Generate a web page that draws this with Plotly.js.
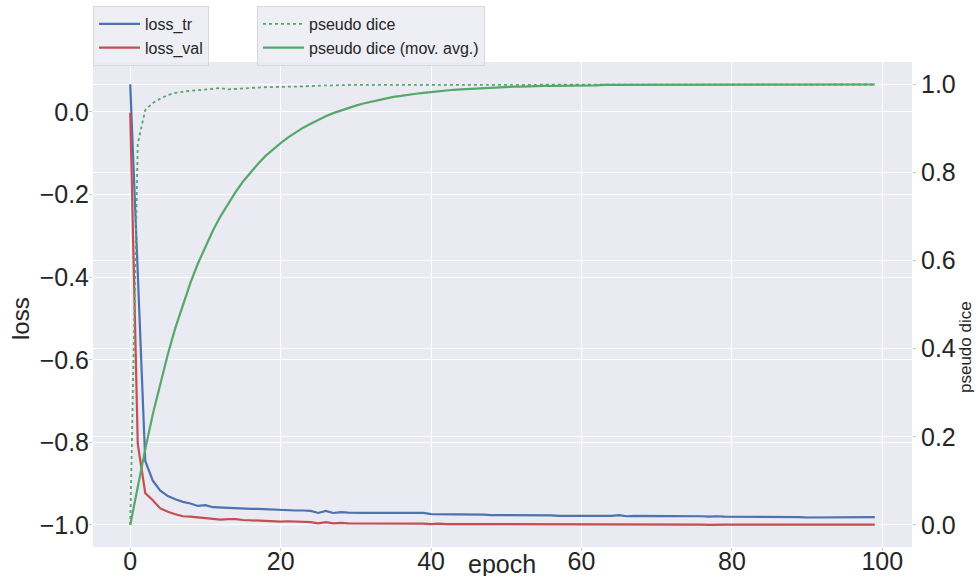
<!DOCTYPE html>
<html><head><meta charset="utf-8">
<script src="https://cdn.plot.ly/plotly-3.0.1.min.js"></script>
<style>html,body{margin:0;padding:0;background:#fff}#chart{width:977px;height:576px}</style>
</head><body><div id="chart"></div>
<script>
const epochs = [0,1,2,3,4,5,6,7,8,9,10,11,12,13,14,15,16,17,18,19,20,21,22,23,24,25,26,27,28,29,30,31,32,33,34,35,36,37,38,39,40,41,42,43,44,45,46,47,48,49,50,51,52,53,54,55,56,57,58,59,60,61,62,63,64,65,66,67,68,69,70,71,72,73,74,75,76,77,78,79,80,81,82,83,84,85,86,87,88,89,90,91,92,93,94,95,96,97,98,99];

const lossTr = [0.067,-0.39,-0.845,-0.893,-0.917,-0.930,-0.938,-0.944,-0.948,-0.954,
-0.952,-0.957,-0.958,-0.958,-0.960,-0.960,-0.961,-0.961,-0.962,-0.963,
-0.964,-0.964,-0.965,-0.965,-0.966,-0.971,-0.966,-0.971,-0.969,-0.970,
-0.971,-0.971,-0.971,-0.971,-0.972,-0.971,-0.972,-0.972,-0.972,-0.971,
-0.974,-0.974,-0.974,-0.975,-0.975,-0.975,-0.975,-0.975,-0.976,-0.976,
-0.976,-0.976,-0.976,-0.977,-0.977,-0.977,-0.977,-0.978,-0.978,-0.978,
-0.977,-0.978,-0.978,-0.978,-0.978,-0.976,-0.979,-0.978,-0.978,-0.979,
-0.979,-0.978,-0.979,-0.979,-0.979,-0.979,-0.979,-0.980,-0.979,-0.980,
-0.980,-0.980,-0.980,-0.981,-0.981,-0.981,-0.980,-0.981,-0.981,-0.981,
-0.982,-0.982,-0.982,-0.981,-0.981,-0.982,-0.982,-0.981,-0.981,-0.981];

const lossVal = [-0.002,-0.803,-0.923,-0.940,-0.960,-0.968,-0.974,-0.979,-0.980,-0.982,
-0.984,-0.985,-0.987,-0.986,-0.986,-0.988,-0.989,-0.989,-0.990,-0.991,
-0.992,-0.991,-0.992,-0.993,-0.993,-0.996,-0.993,-0.996,-0.995,-0.996,
-0.996,-0.996,-0.996,-0.997,-0.997,-0.996,-0.997,-0.997,-0.997,-0.997,
-0.998,-0.997,-0.998,-0.998,-0.998,-0.998,-0.998,-0.998,-0.998,-0.998,
-0.998,-0.998,-0.999,-0.998,-0.998,-0.999,-0.999,-0.998,-0.999,-0.999,
-0.999,-0.998,-0.999,-0.999,-0.999,-0.999,-0.999,-0.999,-0.998,-0.999,
-0.999,-0.999,-0.999,-0.999,-0.999,-0.999,-0.999,-1.000,-0.999,-0.999,
-0.999,-0.999,-0.999,-1.000,-0.999,-0.999,-0.999,-0.999,-0.999,-0.999,
-1.000,-0.999,-0.999,-0.999,-0.999,-0.999,-1.000,-0.999,-0.999,-0.999];

const pseudoDice = [0.000,0.865,0.941,0.957,0.967,0.975,0.980,0.983,0.985,0.986,
0.988,0.990,0.991,0.988,0.989,0.991,0.992,0.992,0.993,0.993,
0.994,0.994,0.994,0.995,0.995,0.996,0.997,0.997,0.998,0.998,
0.998,0.998,0.998,0.998,0.999,0.999,0.999,0.999,0.999,0.999,
0.999,0.999,0.999,0.999,0.999,0.999,0.999,0.999,0.999,0.999,
0.999,0.999,0.999,0.999,0.999,0.999,0.999,0.999,0.999,0.999,
0.999,0.999,0.999,0.999,0.999,0.999,0.999,0.999,0.999,0.999,
0.999,0.999,0.999,0.999,0.999,0.999,0.999,0.999,0.999,0.999,
0.999,0.999,0.999,0.999,0.999,0.999,0.999,0.999,0.999,0.999,
0.999,0.999,0.999,0.999,0.999,0.999,0.999,0.999,0.999,0.999];

const diceMovAvg = [0.000,0.087,0.172,0.251,0.322,0.387,0.447,0.500,0.549,0.593,
0.632,0.668,0.700,0.729,0.755,0.779,0.800,0.819,0.837,0.852,
0.866,0.879,0.891,0.901,0.910,0.919,0.927,0.934,0.940,0.946,
0.951,0.956,0.960,0.964,0.967,0.971,0.973,0.976,0.978,0.980,
0.982,0.984,0.986,0.987,0.988,0.989,0.990,0.991,0.992,0.993,
0.993,0.994,0.994,0.995,0.995,0.996,0.996,0.996,0.997,0.997,
0.997,0.997,0.997,0.998,0.998,0.998,0.998,0.998,0.998,0.998,
0.998,0.998,0.999,0.999,0.999,0.999,0.999,0.999,0.999,0.999,
0.999,0.999,0.999,0.999,0.999,0.999,0.999,0.999,0.999,0.999,
0.999,0.999,0.999,0.999,0.999,0.999,0.999,0.999,0.999,0.999];

const FONT = 'Liberation Sans, Arial, sans-serif';
const TXT = '#262626';
const W = 977, H = 576, L = 93, R = 65, T = 62, B = 29;
const pw = W - L - R, ph = H - T - B;
const px = v => (v - L) / pw;
const py = v => (H - B - v) / ph;

const traces = [
  {x: epochs, y: lossTr, name: 'loss_tr', type: 'scatter', mode: 'lines',
   line: {color: '#4C72B0', width: 2.2}, yaxis: 'y', legend: 'legend'},
  {x: epochs, y: lossVal, name: 'loss_val', type: 'scatter', mode: 'lines',
   line: {color: '#C44E52', width: 2.2}, yaxis: 'y', legend: 'legend'},
  {x: epochs, y: pseudoDice, name: 'pseudo dice', type: 'scatter', mode: 'lines',
   line: {color: '#55A868', width: 1.8, dash: 'dot'}, yaxis: 'y2', legend: 'legend2'},
  {x: epochs, y: diceMovAvg, name: 'pseudo dice (mov. avg.)', type: 'scatter', mode: 'lines',
   line: {color: '#55A868', width: 2.2}, yaxis: 'y2', legend: 'legend2'}
];

const axisCommon = {
  showgrid: true, gridcolor: '#ffffff', gridwidth: 1, zeroline: false, showline: false,
  ticks: 'outside', ticklen: 3, tickcolor: '#c8c8c8', tickwidth: 1, automargin: false,
  tickfont: {family: FONT, size: 25, color: TXT}
};

const legendCommon = {
  xref: 'paper', yref: 'paper', xanchor: 'left', yanchor: 'top',
  bgcolor: 'rgba(234,234,242,0.8)', bordercolor: 'rgba(215,215,222,1)', borderwidth: 1,
  font: {family: FONT, size: 16, color: TXT}, tracegroupgap: 0, itemwidth: 41
};

const layout = {
  width: W, height: H,
  margin: {l: L, r: R, t: T, b: B, pad: 0, autoexpand: false},
  paper_bgcolor: '#ffffff', plot_bgcolor: '#EAEAF2',
  font: {family: FONT, color: TXT},
  showlegend: true,
  xaxis: Object.assign({}, axisCommon, {range: [-4.95, 103.95], dtick: 20, tick0: 0, ticklabelstandoff: -11}),
  yaxis: Object.assign({}, axisCommon, {range: [-1.0534, 0.1210], dtick: 0.2, tick0: 0, tickformat: '.1f', ticklabelstandoff: -5}),
  yaxis2: Object.assign({}, axisCommon, {range: [-0.05, 1.05], dtick: 0.2, tick0: 0, tickformat: '.1f',
    overlaying: 'y', side: 'right'}),
  legend: Object.assign({}, legendCommon, {x: 0, y: py(6)}),
  legend2: Object.assign({}, legendCommon, {x: px(257), y: py(6)}),
  annotations: [
    {text: 'loss', xref: 'paper', yref: 'paper', x: px(20), y: py(319), textangle: -90,
     showarrow: false, xanchor: 'center', yanchor: 'middle', font: {family: FONT, size: 24, color: TXT}},
    {text: 'pseudo dice', xref: 'paper', yref: 'paper', x: px(965), y: py(347), textangle: -90,
     showarrow: false, xanchor: 'center', yanchor: 'middle', font: {family: FONT, size: 17, color: TXT}},
    {text: 'epoch', xref: 'paper', yref: 'paper', x: px(502), y: py(564),
     showarrow: false, xanchor: 'center', yanchor: 'middle', font: {family: FONT, size: 25, color: TXT}}
  ]
};

Plotly.newPlot('chart', traces, layout, {displayModeBar: false, responsive: false});
</script>
</body></html>
